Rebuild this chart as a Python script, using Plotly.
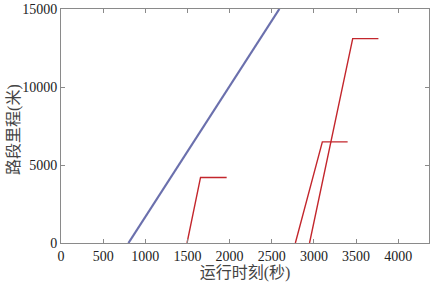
import plotly.graph_objects as go

# Data
blue_t = [800, 2590]
blue_d = [0, 15000]

red1_t = [1495, 1655, 1965]
red1_d = [0, 4200, 4200]

red2_t = [2780, 3100, 3400]
red2_d = [0, 6480, 6480]

red3_t = [2948, 3460, 3765]
red3_d = [0, 13100, 13100]

x_ticks = [0, 500, 1000, 1500, 2000, 2500, 3000, 3500, 4000]
x_labels = ["0", "500", "1000", "1500", "2000", "2500", "3000", "3500", "4000"]
y_ticks = [0, 5000, 10000, 15000]
y_labels = ["0", "5000", "10000", "15000"]
y_title = "路段里程(米)"
x_title = "运行时刻(秒)"

BLUE = "#6b70ad"
RED = "#c3262c"

fig = go.Figure()
fig.add_trace(go.Scatter(x=blue_t, y=blue_d, mode="lines",
                         line=dict(color=BLUE, width=2.2), showlegend=False))
for t, d in [(red1_t, red1_d), (red2_t, red2_d), (red3_t, red3_d)]:
    fig.add_trace(go.Scatter(x=t, y=d, mode="lines",
                             line=dict(color=RED, width=1.4), showlegend=False))

font_fam = "'Times New Roman', 'Liberation Serif', 'Noto Sans CJK SC', serif"
axis_common = dict(showgrid=False, zeroline=False, showline=True, linecolor="#8a8a8a",
                   linewidth=1, mirror="ticks", ticks="inside", ticklen=4,
                   tickcolor="#8a8a8a", automargin=False,
                   tickfont=dict(family=font_fam, size=14, color="#222"))

fig.update_layout(
    width=434, height=285,
    margin=dict(l=61, r=5, t=9, b=42, autoexpand=False),
    paper_bgcolor="white", plot_bgcolor="white",
    xaxis=dict(range=[0, 4365], tickvals=x_ticks, ticktext=x_labels,
               title=dict(text=x_title, font=dict(family=font_fam, size=16, color="#444"), standoff=2),
               **axis_common),
    yaxis=dict(range=[0, 15000], tickvals=y_ticks, ticktext=y_labels, **axis_common),
    annotations=[dict(text=y_title, textangle=-90, xref="paper", yref="paper",
                      x=-0.128, y=0.487, xanchor="center", yanchor="middle", showarrow=False,
                      font=dict(family=font_fam, size=16, color="#444"))],
)

fig.write_html("out.html", config={"displayModeBar": False},
               post_script="document.body.style.margin='0';document.body.style.overflow='hidden';")
